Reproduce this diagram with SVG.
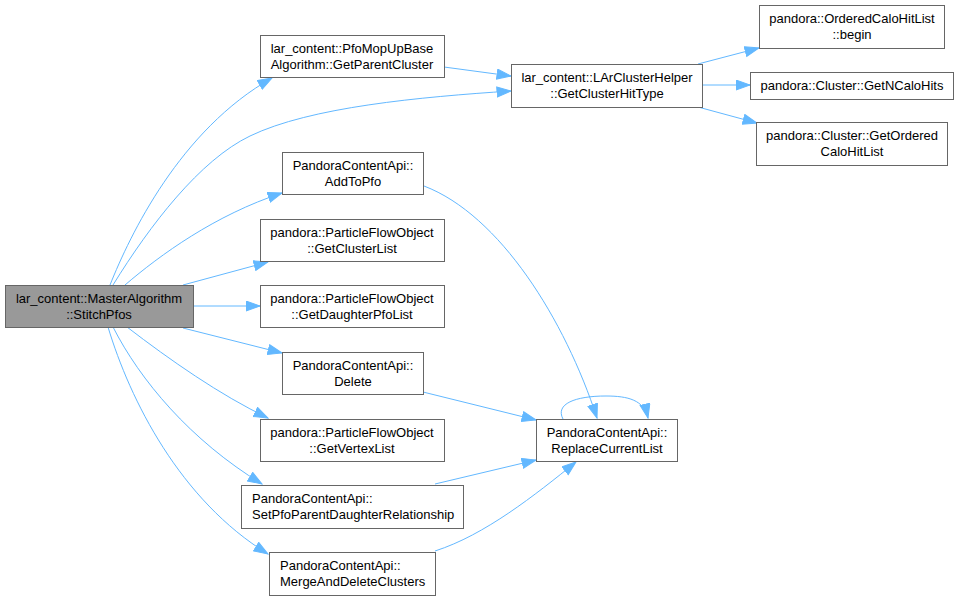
<svg xmlns="http://www.w3.org/2000/svg" width="959" height="600" viewBox="0 0 959 600">
<style>
.n rect{fill:#ffffff;stroke:#666666;stroke-width:1}
.m rect{fill:#999999;stroke:#666666;stroke-width:1}
text{font-family:"Liberation Sans",Arial,sans-serif;font-size:13px;fill:#000000}
.c{text-anchor:middle}
.e path{fill:none;stroke:#63b8ff;stroke-width:1;marker-end:url(#a)}
</style>
<defs>
<marker id="a" markerUnits="userSpaceOnUse" markerWidth="16" markerHeight="12" refX="14.5" refY="5.5" orient="auto" viewBox="0 0 16 12">
<path d="M0.5,0.5 L14.5,5.5 L0.5,10.5 z" fill="#63b8ff" stroke="#63b8ff" stroke-width="1"/>
</marker>
</defs>
<rect width="959" height="600" fill="#ffffff"/>
<g class="e" id="connectors">
<path d="M110,285 C130,235 180,130 272,78"/>
<path d="M113,285 C150,225 200,160 250,136 C310,107 420,97 511,91"/>
<path d="M125,285 C160,255 215,215 282,193"/>
<path d="M183,285 L268,262"/>
<path d="M193,306 L260,306"/>
<path d="M183,328 L282,353"/>
<path d="M127,327 C170,360 220,395 268,418"/>
<path d="M113,327 C140,380 190,440 262,484"/>
<path d="M108,327 C130,400 180,500 268,554"/>
<path d="M444,67 L511,76"/>
<path d="M698,64 L759,48"/>
<path d="M702,85 L750,85"/>
<path d="M698,107 L757,123"/>
<path d="M424,186 C500,215 565,320 597,418"/>
<path d="M423,392 L536,420"/>
<path d="M435,484 L536,460"/>
<path d="M435,551 C485,535 535,495 576,462"/>
<path d="M563,419 C555,404 575,396 606,396 C628,396 644,400 648,418"/>
</g>
<g id="n_main" class="m"><rect x="5.5" y="285.5" width="188" height="42"/><text class="c" x="99" y="303">lar_content::MasterAlgorithm</text><text class="c" x="99" y="319">::StitchPfos</text></g>
<g id="n_pfomopup" class="n"><rect x="260.5" y="35.5" width="184" height="42"/><text class="c" x="352" y="53">lar_content::PfoMopUpBase</text><text class="c" x="352" y="69">Algorithm::GetParentCluster</text></g>
<g id="n_addtopfo" class="n"><rect x="282.5" y="152.5" width="141" height="42"/><text class="c" x="353" y="170">PandoraContentApi::</text><text class="c" x="353" y="186">AddToPfo</text></g>
<g id="n_getclusterlist" class="n"><rect x="260.5" y="219.5" width="184" height="42"/><text class="c" x="352" y="237">pandora::ParticleFlowObject</text><text class="c" x="352" y="253">::GetClusterList</text></g>
<g id="n_getdaughter" class="n"><rect x="260.5" y="285.5" width="184" height="42"/><text class="c" x="352" y="303">pandora::ParticleFlowObject</text><text class="c" x="352" y="319">::GetDaughterPfoList</text></g>
<g id="n_delete" class="n"><rect x="282.5" y="352.5" width="141" height="42"/><text class="c" x="353" y="370">PandoraContentApi::</text><text class="c" x="353" y="386">Delete</text></g>
<g id="n_getvertex" class="n"><rect x="260.5" y="419.5" width="184" height="42"/><text class="c" x="352" y="437">pandora::ParticleFlowObject</text><text class="c" x="352" y="453">::GetVertexList</text></g>
<g id="n_setpfo" class="n"><rect x="241.5" y="485.5" width="222" height="43"/><text x="252" y="503">PandoraContentApi::</text><text x="252" y="519">SetPfoParentDaughterRelationship</text></g>
<g id="n_merge" class="n"><rect x="269.5" y="552.5" width="166" height="43"/><text x="280" y="570">PandoraContentApi::</text><text x="280" y="586">MergeAndDeleteClusters</text></g>
<g id="n_replace" class="n"><rect x="536.5" y="419.5" width="141" height="42"/><text class="c" x="607" y="437">PandoraContentApi::</text><text class="c" x="607" y="453">ReplaceCurrentList</text></g>
<g id="n_larcluster" class="n"><rect x="511.5" y="64.5" width="191" height="43"/><text class="c" x="607" y="82">lar_content::LArClusterHelper</text><text class="c" x="607" y="98">::GetClusterHitType</text></g>
<g id="n_begin" class="n"><rect x="759.5" y="5.5" width="185" height="43"/><text class="c" x="852" y="23">pandora::OrderedCaloHitList</text><text class="c" x="852" y="39">::begin</text></g>
<g id="n_ncalo" class="n"><rect x="750.5" y="72.5" width="203" height="27"/><text class="c" x="852" y="90">pandora::Cluster::GetNCaloHits</text></g>
<g id="n_getordered" class="n"><rect x="756.5" y="122.5" width="191" height="43"/><text class="c" x="852" y="140">pandora::Cluster::GetOrdered</text><text class="c" x="852" y="156">CaloHitList</text></g>
</svg>
